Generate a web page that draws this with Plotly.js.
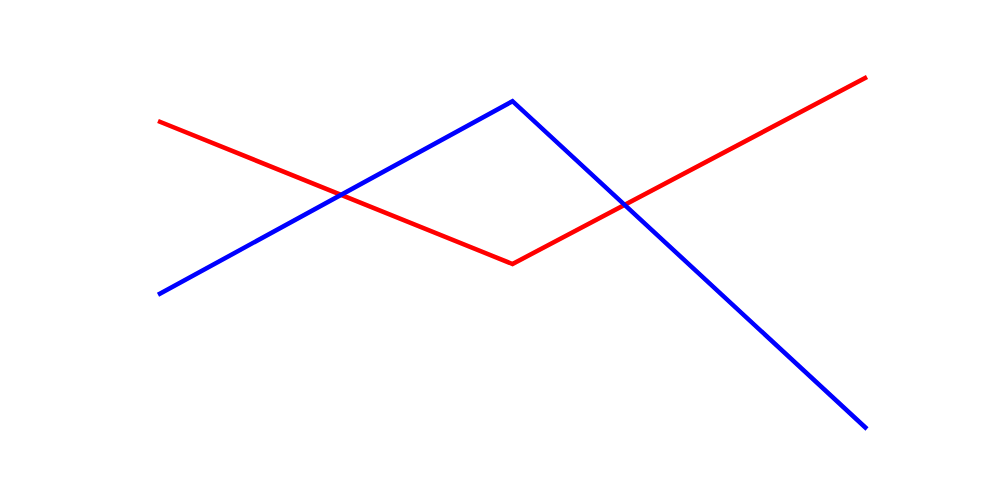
<!DOCTYPE html>
<html>
<head>
<meta charset="utf-8">
<script src="https://cdn.plot.ly/plotly-3.0.1.min.js"></script>
<style>html,body{margin:0;padding:0;background:#fff;}#chart{width:1000px;height:500px;}</style>
</head>
<body>
<div id="chart"></div>
<script>
const categories = [0, 1, 2];
const redValues = [15, 8.5, 17];
const blueValues = [7.1, 15.9, 1];

const traces = [
  {x: categories, y: redValues, type: 'scatter', mode: 'lines', line: {color: '#ff0000', width: 4.5}, showlegend: false, hoverinfo: 'none'},
  {x: categories, y: blueValues, type: 'scatter', mode: 'lines', line: {color: '#0000ff', width: 4.5}, showlegend: false, hoverinfo: 'none'}
];

const layout = {
  width: 1000, height: 500,
  margin: {l: 0, r: 0, t: 0, b: 0, pad: 0},
  paper_bgcolor: '#ffffff', plot_bgcolor: '#ffffff',
  xaxis: {range: [-158/354.5, 842/354.5], visible: false, showgrid: false, zeroline: false, fixedrange: true},
  yaxis: {range: [-49/22, 451/22], visible: false, showgrid: false, zeroline: false, fixedrange: true},
  showlegend: false
};

Plotly.newPlot('chart', traces, layout, {displayModeBar: false, staticPlot: true});
</script>
</body>
</html>
